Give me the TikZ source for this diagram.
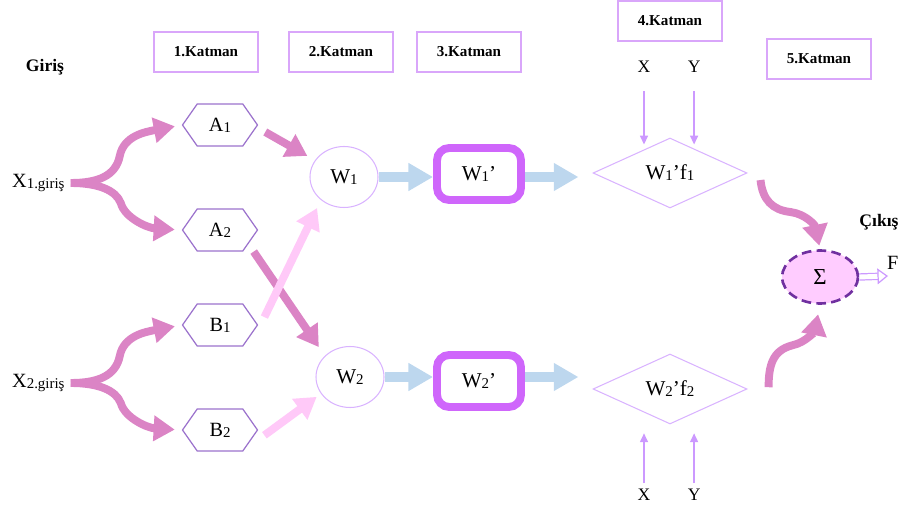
\documentclass[tikz,border=0pt]{standalone}
\usepackage{fontspec}
\setmainfont{Liberation Serif}
\usetikzlibrary{positioning,calc,arrows.meta,shapes.geometric,shapes.symbols}
\definecolor{Orchid}{HTML}{DB84C5}
\definecolor{Blush}{HTML}{FFC9F8}
\definecolor{Sky}{HTML}{BDD7EE}
\definecolor{Lilac}{HTML}{D9A6FA}
\definecolor{Violet}{HTML}{9B72CC}
\definecolor{Mauve}{HTML}{D9B3FF}
\definecolor{Magenta}{HTML}{CF66FB}
\definecolor{Plum}{HTML}{7030A0}
\definecolor{Rose}{HTML}{FFCCFF}
\definecolor{Lavender}{HTML}{CC99FF}
\newcommand{\lowidx}[1]{{\fontsize{8.5pt}{9pt}\selectfont\raisebox{-.5pt}{#1}}}
\tikzset{
  layer box/.style={draw=Lilac,line width=.7pt,minimum width=2.08cm,
    minimum height=.8cm,font=\fontsize{8.6pt}{10pt}\selectfont\bfseries},
  side label/.style={font=\fontsize{10pt}{12pt}\selectfont\bfseries},
  input label/.style={anchor=west,font=\fontsize{11.5pt}{13pt}\selectfont},
  hex node/.style={signal,signal to=east and west,signal pointer angle=110,
    draw=Violet,line width=.7pt,minimum width=1.5cm,minimum height=.84cm,
    font=\fontsize{11.5pt}{13pt}\selectfont},
  weight node/.style={ellipse,draw=Mauve,line width=.6pt,minimum width=1.36cm,
    minimum height=1.22cm,font=\fontsize{12pt}{14pt}\selectfont},
  norm box/.style={draw=Magenta,line width=4.5pt,rounded corners=7pt,
    minimum width=1.68cm,minimum height=1.04cm,font=\fontsize{12pt}{14pt}\selectfont},
  rule node/.style={diamond,draw=Mauve,line width=.6pt,minimum width=3.08cm,
    minimum height=1.4cm,inner sep=0pt,font=\fontsize{12pt}{14pt}\selectfont},
  sum node/.style={ellipse,draw=Plum,fill=Rose,line width=1.5pt,
    dash pattern=on 5.5pt off 3pt,minimum width=1.52cm,minimum height=1.06cm,
    font=\fontsize{13pt}{15pt}\selectfont},
  xy label/.style={font=\fontsize{10pt}{12pt}\selectfont},
  fat arrow/.style={-{Triangle[width=14pt,length=12pt]},line width=4.5pt,draw=Orchid},
  soft arrow/.style={fat arrow,draw=Blush},
  flow arrow/.style={-{Triangle[width=15pt,length=14pt]},line width=6pt,draw=Sky},
  input arrow/.style={-{Triangle[width=4.5pt,length=5pt]},line width=.8pt,draw=Lavender},
  out arrow/.style={-{Triangle[open,width=9pt,length=6pt]},draw=Lavender,
    line width=.7pt,double=white,double distance=2.8pt}
}

\begin{document}
\begin{tikzpicture}[x=.02cm,y=-.02cm,node distance=.6cm]
  \useasboundingbox (0,0) rectangle (902,506);
  % layer headings
  \node[layer box] (k1) at (206,52) {1.Katman};
  \node[layer box] (k2) at (341,52) {2.Katman};
  \node[layer box] (k3) at (469,52) {3.Katman};
  \node[layer box] (k4) at (670,21) {4.Katman};
  \node[layer box] (k5) at (819,59) {5.Katman};
  \node[side label] (giris) at (45,67) {Giriş};
  \node[side label] (cikis) at (879,222) {Çıkış};
  % inputs and first layer
  \node[input label] (x1) at (6,183) {X\lowidx{1.giriş}};
  \node[input label] (x2) at (6,383) {X\lowidx{2.giriş}};
  \node[hex node] (a1) at (220,125) {A\lowidx{1}};
  \node[hex node] (a2) at (220,230) {A\lowidx{2}};
  \node[hex node] (b1) at (220,325) {B\lowidx{1}};
  \node[hex node] (b2) at (220,430) {B\lowidx{2}};
  % weights
  \node[weight node] (w1) at (344,177) {W\lowidx{1}};
  \node[weight node] (w2) at (350,377) {W\lowidx{2}};
  \node[norm box] (w1p) at (479,174) {W\lowidx{1}’};
  \node[norm box] (w2p) at (479,381) {W\lowidx{2}’};
  % rules with their x, y inputs
  \node[rule node] (f1) at (670,173) {W\lowidx{1}’f\lowidx{1}};
  \node[rule node] (f2) at (670,389) {W\lowidx{2}’f\lowidx{2}};
  \node[xy label] (xt) at (644,67) {X};
  \node[xy label,right=.5cm of xt] (yt) {Y};
  \node[xy label] (xb) at (644,495) {X};
  \node[xy label,right=.5cm of xb] (yb) {Y};
  % output
  \node[sum node] (sum) at (820,277) {Σ};
  \node[input label] (fout) at (881,263) {F};
  \coordinate (out end) at (888,276);

  % splitting the inputs
  \draw[fat arrow,shorten >=4pt] (x1.east) .. controls +(27,0) and +(-4,20) .. ++(49,-27)
    .. controls +(4,-20) and +(-37,7) .. (a1.west);
  \draw[fat arrow,shorten >=4pt] (x1.east) .. controls +(27,0) and +(-5,-13) .. ++(50,20)
    .. controls +(4,15) and +(-34,-2) .. (a2.west);
  \draw[fat arrow,shorten >=4pt] (x2.east) .. controls +(27,0) and +(-4,20) .. ++(49,-27)
    .. controls +(4,-20) and +(-37,7) .. (b1.west);
  \draw[fat arrow,shorten >=4pt] (x2.east) .. controls +(27,0) and +(-5,-13) .. ++(50,20)
    .. controls +(4,15) and +(-34,-2) .. (b2.west);
  % into the weights
  \draw[fat arrow,shorten >=5pt] ([xshift=4pt,yshift=-4pt]a1.east) -- (w1.150);
  \draw[fat arrow,shorten >=6pt] ([xshift=6pt]a2.south east) -- (w2.140);
  \draw[soft arrow,shorten >=5pt] ([xshift=3.5pt,yshift=4.5pt]b1.east) -- (w1.225);
  \draw[soft arrow,shorten >=3pt] ([xshift=3.5pt,yshift=-3pt]b2.east) -- (w2.210);
  \draw[flow arrow] (w1.east) -- (w1.east -| w1p.west);
  \draw[flow arrow] (w2.east) -- (w2.east -| w2p.west);
  \draw[flow arrow,shorten >=8pt] (w1p.east |- w1.east) -- (w1.east -| f1.west);
  \draw[flow arrow,shorten >=8pt] (w2p.east |- w2.east) -- (w2.east -| f2.west);
  % x, y
  \draw[input arrow,shorten <=7pt,shorten >=-4pt] (xt.south) -- (xt.south |- f1.north);
  \draw[input arrow,shorten <=7pt,shorten >=-4pt] (yt.south) -- (yt.south |- f1.north);
  \draw[input arrow,shorten >=5pt] (xb.north) -- (xb.north |- f2.south);
  \draw[input arrow,shorten >=5pt] (yb.north) -- (yb.north |- f2.south);
  % summing up
  \draw[fat arrow,shorten >=2pt] ([xshift=7.4pt,yshift=-4pt]f1.east) .. controls +(2,20) and +(-18,-2) .. ++(30,32)
    .. controls +(15,2) and +(-5,-24) .. (sum.north);
  \draw[fat arrow,shorten >=5.5pt] ([xshift=12pt,yshift=1pt]f2.east) .. controls +(0,-22) and +(-20,5) .. ++(24,-42)
    .. controls +(14,-3) and +(-5,25) .. (sum.south);
  \draw[out arrow] (sum.east) -- (out end);
\end{tikzpicture}
\end{document}
